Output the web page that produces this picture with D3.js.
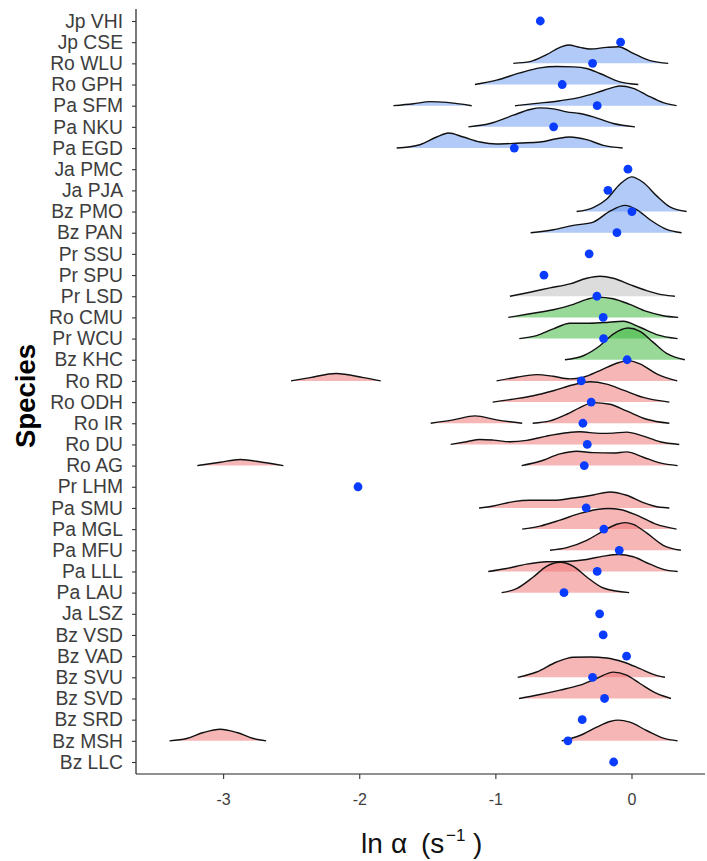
<!DOCTYPE html>
<html>
<head>
<meta charset="utf-8">
<script src="https://cdn.jsdelivr.net/npm/d3@7"></script>
<style>
  html, body { margin: 0; padding: 0; background: #fff; }
  svg { display: block; }
</style>
</head>
<body>
<svg id="chart" width="707" height="861"></svg>
<script>
// ---------------- DATA ----------------
const species = ["Jp VHI","Jp CSE","Ro WLU","Ro GPH","Pa SFM","Pa NKU","Pa EGD","Ja PMC","Ja PJA",
  "Bz PMO","Bz PAN","Pr SSU","Pr SPU","Pr LSD","Ro CMU","Pr WCU","Bz KHC","Ro RD","Ro ODH","Ro IR",
  "Ro DU","Ro AG","Pr LHM","Pa SMU","Pa MGL","Pa MFU","Pa LLL","Pa LAU","Ja LSZ","Bz VSD","Bz VAD",
  "Bz SVU","Bz SVD","Bz SRD","Bz MSH","Bz LLC"];

// point estimates (blue dots), ln alpha
const pointValues = [-0.670,-0.080,-0.286,-0.509,-0.252,-0.572,-0.861,-0.026,-0.173,
  0.003,-0.107,-0.311,-0.643,-0.254,-0.208,-0.205,-0.032,-0.369,-0.296,-0.357,
  -0.325,-0.347,-2.009,-0.333,-0.203,-0.090,-0.252,-0.496,-0.234,-0.208,-0.036,
  -0.286,-0.198,-0.362,-0.467,-0.131];

const xTicks = [-3, -2, -1, 0];
const xTickLabels = ["-3", "-2", "-1", "0"];

// ridge segments: species, group, x values (ln alpha) and scaled densities
const ridgeSpecies = ["Ro WLU","Ro GPH","Pa SFM","Pa SFM","Pa NKU","Pa EGD","Bz PMO","Bz PAN",
  "Pr LSD","Ro CMU","Pr WCU","Bz KHC","Ro RD","Ro RD","Ro ODH","Ro IR","Ro IR","Ro DU","Ro AG","Ro AG",
  "Pa SMU","Pa MGL","Pa MFU","Pa LLL","Pa LAU","Bz SVU","Bz SVD","Bz MSH","Bz MSH"];
const ridgeGroup = ["blue","blue","blue","blue","blue","blue","blue","blue",
  "grey","green","green","green","red","red","red","red","red","red","red","red",
  "red","red","red","red","red","red","red","red","red"];
const ridgeX = [
  [-0.868,-0.746,-0.624,-0.525,-0.464,-0.379,-0.305,-0.183,-0.097,0.013,0.136,0.270],
  [-1.150,-0.991,-0.819,-0.672,-0.550,-0.427,-0.329,-0.232,-0.085,0.050],
  [-1.749,-1.602,-1.480,-1.358,-1.174],
  [-0.856,-0.697,-0.525,-0.379,-0.256,-0.134,-0.085,0.013,0.111,0.233,0.331],
  [-1.198,-1.040,-0.868,-0.746,-0.672,-0.574,-0.476,-0.379,-0.281,-0.134,0.025],
  [-1.725,-1.554,-1.431,-1.345,-1.235,-1.113,-0.991,-0.819,-0.672,-0.550,-0.452,-0.329,-0.207,-0.065],
  [-0.403,-0.281,-0.183,-0.085,0.001,0.087,0.185,0.282,0.405],
  [-0.741,-0.574,-0.427,-0.281,-0.158,-0.048,0.038,0.136,0.258,0.368],
  [-0.893,-0.746,-0.599,-0.452,-0.329,-0.232,-0.134,-0.012,0.111,0.233,0.319],
  [-0.905,-0.746,-0.574,-0.427,-0.329,-0.244,-0.134,-0.012,0.111,0.233,0.343],
  [-0.824,-0.697,-0.574,-0.452,-0.329,-0.207,-0.060,0.062,0.185,0.339],
  [-0.489,-0.354,-0.232,-0.134,-0.024,0.062,0.160,0.258,0.392],
  [-0.991,-0.844,-0.697,-0.574,-0.452,-0.354,-0.232,-0.109,-0.024,0.062,0.185,0.336],
  [-2.501,-2.361,-2.170,-1.970,-1.842],
  [-1.020,-0.868,-0.721,-0.574,-0.427,-0.305,-0.183,-0.060,0.087,0.278],
  [-0.726,-0.599,-0.476,-0.379,-0.281,-0.158,-0.036,0.111,0.278],
  [-1.475,-1.309,-1.150,-0.991,-0.803],
  [-1.328,-1.211,-1.113,-1.015,-0.893,-0.770,-0.624,-0.476,-0.379,-0.232,-0.134,-0.036,0.087,0.209,0.351],
  [-0.807,-0.672,-0.525,-0.403,-0.281,-0.134,-0.036,0.087,0.209,0.339],
  [-3.190,-3.021,-2.875,-2.713,-2.557],
  [-1.120,-1.015,-0.868,-0.746,-0.574,-0.427,-0.281,-0.158,-0.036,0.087,0.209,0.278],
  [-0.803,-0.672,-0.525,-0.379,-0.256,-0.170,-0.085,0.038,0.185,0.331],
  [-0.599,-0.476,-0.329,-0.207,-0.109,-0.048,0.013,0.111,0.233,0.363],
  [-1.052,-0.917,-0.770,-0.624,-0.476,-0.329,-0.207,-0.097,0.013,0.136,0.258,0.339],
  [-0.954,-0.844,-0.721,-0.624,-0.525,-0.427,-0.329,-0.207,-0.017],
  [-0.836,-0.697,-0.550,-0.427,-0.305,-0.183,-0.060,0.062,0.160,0.246],
  [-0.826,-0.672,-0.525,-0.379,-0.256,-0.134,-0.036,0.062,0.185,0.290],
  [-0.513,-0.379,-0.256,-0.158,-0.097,-0.012,0.111,0.233,0.339],
  [-3.394,-3.267,-3.145,-3.022,-2.899,-2.778,-2.684]
];
const ridgeDensity = [
  [0,0.079,0.41,0.756,0.866,0.756,0.677,0.756,0.787,0.472,0.126,0],
  [0,0.205,0.55,0.787,0.85,0.835,0.756,0.52,0.126,0],
  [0,0.094,0.19,0.157,0],
  [0,0.11,0.236,0.394,0.614,0.866,0.929,0.819,0.504,0.142,0],
  [0,0.157,0.551,0.819,0.898,0.85,0.709,0.63,0.472,0.157,0],
  [0,0.157,0.52,0.709,0.52,0.283,0.189,0.236,0.283,0.441,0.52,0.394,0.126,0],
  [0,0.189,0.583,1.29,1.638,1.37,0.74,0.22,0],
  [0,0.142,0.346,0.504,1.02,1.29,1.09,0.614,0.157,0],
  [0,0.189,0.394,0.583,0.85,0.945,0.85,0.551,0.268,0.063,0],
  [0,0.173,0.362,0.614,0.85,0.96,0.882,0.614,0.283,0.079,0],
  [0,0.142,0.457,0.724,0.724,0.756,0.819,0.535,0.189,0],
  [0,0.189,0.661,1.213,1.496,1.339,0.819,0.299,0],
  [0,0.173,0.299,0.22,0.094,0.173,0.488,0.835,0.96,0.803,0.331,0],
  [0,0.157,0.347,0.157,0],
  [0,0.142,0.299,0.535,0.819,0.96,0.85,0.567,0.22,0],
  [0,0.11,0.425,0.74,0.976,0.898,0.583,0.189,0],
  [0,0.157,0.347,0.157,0],
  [0,0.126,0.236,0.205,0.126,0.189,0.394,0.551,0.598,0.52,0.535,0.583,0.394,0.126,0],
  [0,0.205,0.551,0.677,0.614,0.598,0.646,0.394,0.126,0],
  [0,0.16,0.29,0.16,0],
  [0,0.094,0.299,0.362,0.362,0.472,0.614,0.756,0.598,0.252,0.03,0],
  [0,0.142,0.425,0.74,0.929,0.976,0.929,0.661,0.22,0],
  [0,0.126,0.472,0.913,1.228,1.307,1.228,0.819,0.236,0],
  [0,0.142,0.346,0.457,0.472,0.567,0.724,0.803,0.693,0.346,0.063,0],
  [0,0.189,0.74,1.244,1.433,1.244,0.74,0.22,0],
  [0,0.252,0.724,0.945,0.96,0.913,0.724,0.409,0.142,0],
  [0,0.189,0.394,0.63,0.945,1.244,1.102,0.709,0.236,0],
  [0,0.252,0.646,0.913,0.976,0.882,0.488,0.126,0],
  [0,0.11,0.394,0.55,0.394,0.11,0]
];

const groupColors = { blue: "rgba(100,150,240,0.5)", grey: "rgba(186,186,186,0.5)",
                      green: "rgba(50,180,50,0.5)", red: "rgba(240,110,110,0.5)" };

// ---------------- LAYOUT ----------------
const svg = d3.select("#chart");
const plotLeft = 136, plotRight = 705, plotTop = 9, plotBottom = 774;
const fontFam = "Liberation Sans, Arial, Helvetica, sans-serif";

const x = d3.scaleLinear().domain([-3.64, 0.54]).range([plotLeft, plotRight]);
const y = d3.scalePoint().domain(species).range([21, 762]);
const step = y.step();
const h = d3.scaleLinear().domain([0, 1]).range([0, step]);

// ridges (top rows first so lower rows overlap)
const order = d3.range(ridgeSpecies.length).sort((a, b) => species.indexOf(ridgeSpecies[a]) - species.indexOf(ridgeSpecies[b]));
const gR = svg.append("g");
order.forEach(i => {
  const base = y(ridgeSpecies[i]);
  const pts = ridgeX[i].map((v, k) => [v, ridgeDensity[i][k]]);
  const area = d3.area().x(d => x(d[0])).y0(base).y1(d => base - h(d[1])).curve(d3.curveMonotoneX);
  const line = d3.line().x(d => x(d[0])).y(d => base - h(d[1])).curve(d3.curveMonotoneX);
  gR.append("path").attr("d", area(pts)).attr("fill", groupColors[ridgeGroup[i]]).attr("stroke", "none");
  gR.append("path").attr("d", line(pts)).attr("fill", "none").attr("stroke", "#111").attr("stroke-width", 1.4);
});

// points
svg.append("g").selectAll("circle").data(species).join("circle")
  .attr("cx", (d, i) => x(pointValues[i]))
  .attr("cy", d => y(d))
  .attr("r", 4.4)
  .attr("fill", "#0a3cff");

// axes
const yAxis = svg.append("g").attr("transform", `translate(${plotLeft},0)`)
  .call(d3.axisLeft(y).tickSize(4).tickPadding(9));
yAxis.select(".domain").attr("d", `M0,${plotTop}V${plotBottom}`).attr("stroke", "#222").attr("stroke-width", 1.2);
yAxis.selectAll(".tick line").attr("stroke", "#333").attr("stroke-width", 1.1);
yAxis.selectAll(".tick text").attr("font-family", fontFam)
  .attr("font-size", 19.3).attr("fill", "#3d3d3d");

const xAxis = svg.append("g").attr("transform", `translate(0,${plotBottom})`)
  .call(d3.axisBottom(x).tickValues(xTicks).tickFormat((d, i) => xTickLabels[i]).tickSize(5).tickPadding(15));
xAxis.select(".domain").attr("d", `M${plotLeft},0H${plotRight}`).attr("stroke", "#222").attr("stroke-width", 1.2);
xAxis.selectAll(".tick line").attr("stroke", "#333").attr("stroke-width", 1.1);
xAxis.selectAll(".tick text").attr("font-family", fontFam)
  .attr("font-size", 16).attr("fill", "#3d3d3d");

// titles
svg.append("text")
  .attr("transform", "translate(35,396) rotate(-90)")
  .attr("text-anchor", "middle")
  .attr("font-family", fontFam)
  .attr("font-weight", "bold").attr("font-size", 27.5).attr("fill", "#000")
  .text("Species");

const xt = svg.append("text")
  .attr("y", 853)
  .attr("font-family", fontFam)
  .attr("font-size", 28).attr("fill", "#111");
xt.append("tspan").attr("x", 361).text("ln");
xt.append("tspan").attr("x", 391).text("α");
xt.append("tspan").attr("x", 421).text("(s");
xt.append("tspan").attr("x", 446).attr("dy", -12).attr("font-size", 17).text("−1");
xt.append("tspan").attr("x", 473).attr("dy", 12).text(")");
</script>
</body>
</html>
